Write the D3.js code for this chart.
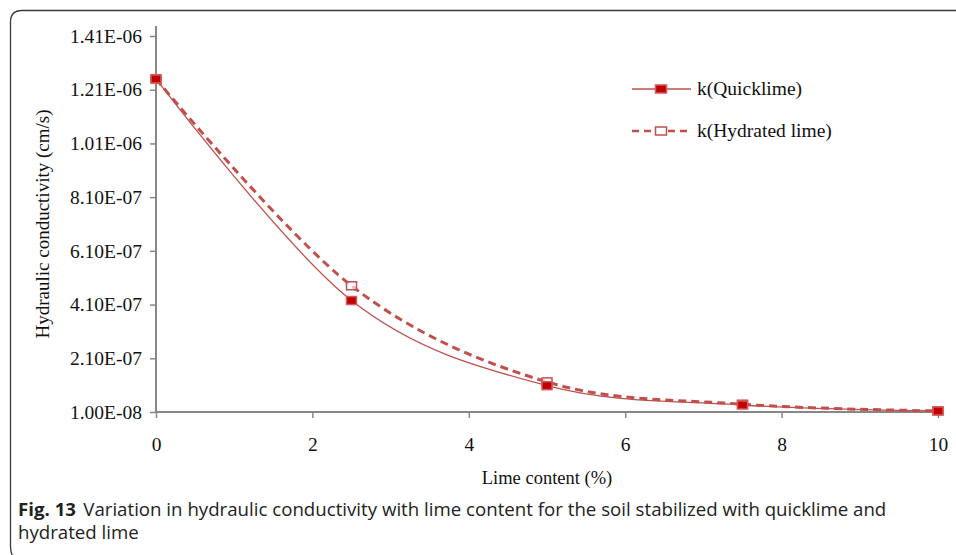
<!DOCTYPE html>
<html>
<head>
<meta charset="utf-8">
<script src="https://cdn.jsdelivr.net/npm/d3@7"></script>
<style>
  html, body { margin: 0; padding: 0; background: #fff; }
  svg { display: block; }
</style>
</head>
<body>
<svg id="chart" width="956" height="555"></svg>
<script>
// ---- data ----
const limeContent = [0, 2.5, 5, 7.5, 10];
const kQuicklime = [1.25e-6, 4.25e-7, 1.08e-7, 3.6e-8, 1.4e-8];
const kHydrated = [1.25e-6, 4.8e-7, 1.22e-7, 3.9e-8, 1.4e-8];
const yTickValues = [1.0e-8, 2.1e-7, 4.1e-7, 6.1e-7, 8.1e-7, 1.01e-6, 1.21e-6, 1.41e-6];
const yTickLabels = ["1.00E-08", "2.10E-07", "4.10E-07", "6.10E-07", "8.10E-07", "1.01E-06", "1.21E-06", "1.41E-06"];
const xTickValues = [0, 2, 4, 6, 8, 10];
const seriesNames = ["k(Quicklime)", "k(Hydrated lime)"];
const xTitle = "Lime content (%)";
const yTitle = "Hydraulic conductivity (cm/s)";
const captionBold = "Fig. 13";
const captionLine1 = "Variation in hydraulic conductivity with lime content for the soil stabilized with quicklime and";
const captionLine2 = "hydrated lime";

const svg = d3.select("#chart");
const serif = "'Liberation Serif', 'Times New Roman', serif";
const sans = "'Open Sans', 'Noto Sans', sans-serif";
const axisColor = "#878787";
const lineRed = "#C0504D";
const fillRed = "#C00000";

// frame
svg.append("path")
  .attr("d", "M16,560 Q10.5,556 10.5,546 L10.5,22 Q10.5,10.5 22,10.5 L960,10.5")
  .attr("fill", "none").attr("stroke", "#3a3a3a").attr("stroke-width", 1.3);

const x = d3.scaleLinear().domain([0, 10]).range([156, 938]);
const y = d3.scaleLinear().domain([1.0e-8, 1.41e-6]).range([412, 36]);

// axes
const yAxis = d3.axisLeft(y).tickValues(yTickValues)
  .tickFormat((d, i) => yTickLabels[i]).tickSize(6).tickPadding(8);
const gy = svg.append("g").attr("transform", `translate(${x(0)},0)`).call(yAxis);
gy.select(".domain").attr("d", `M-0,26V${y(1e-8)}`);

const xAxis = d3.axisBottom(x).tickValues(xTickValues).tickSize(6).tickPadding(19)
  .tickFormat(d3.format("d"));
const gx = svg.append("g").attr("transform", `translate(0,${y(1e-8)})`).call(xAxis);
gx.select(".domain").attr("d", `M${x(0)},0H944`);

[gx, gy].forEach(g => {
  g.select(".domain").attr("stroke", axisColor).attr("stroke-width", 2);
  g.selectAll(".tick line").attr("stroke", axisColor).attr("stroke-width", 1.5);
  g.selectAll(".tick text").attr("font-family", serif).attr("font-size", 19.5).attr("fill", "#111");
});

// axis titles
svg.append("text").attr("x", 547).attr("y", 484).attr("text-anchor", "middle")
  .attr("font-family", serif).attr("font-size", 18.5).attr("fill", "#111").text(xTitle);
svg.append("text").attr("transform", "translate(49,224) rotate(-90)").attr("text-anchor", "middle")
  .attr("font-family", serif).attr("font-size", 19).attr("fill", "#111").text(yTitle);

// lines
const line = d3.line().x(d => x(d[0])).y(d => y(d[1])).curve(d3.curveCardinal.tension(0));
const hydPts = limeContent.map((v, i) => [v, kHydrated[i]]);
const quickPts = limeContent.map((v, i) => [v, kQuicklime[i]]);

svg.append("path").attr("d", line(hydPts)).attr("fill", "none")
  .attr("stroke", lineRed).attr("stroke-width", 3).attr("stroke-dasharray", "8,5");
svg.append("path").attr("d", line(quickPts)).attr("fill", "none")
  .attr("stroke", lineRed).attr("stroke-width", 1.3);

const mw = 10, mh = 8;
svg.append("g").selectAll("rect").data(hydPts).join("rect")
  .attr("x", d => x(d[0]) - mw / 2).attr("y", d => y(d[1]) - mh / 2)
  .attr("width", mw).attr("height", mh)
  .attr("fill", "#fff").attr("fill-opacity", 0.6).attr("stroke", lineRed).attr("stroke-width", 1.5);
svg.append("g").selectAll("rect").data(quickPts).join("rect")
  .attr("x", d => x(d[0]) - mw / 2).attr("y", d => y(d[1]) - mh / 2)
  .attr("width", mw).attr("height", mh)
  .attr("fill", fillRed).attr("stroke", "#d65a5a").attr("stroke-width", 1.5);

// legend
const leg = svg.append("g");
const legItems = [
  { name: seriesNames[0], y: 89, dash: null, w: 1.3, fill: fillRed, stroke: "#d65a5a" },
  { name: seriesNames[1], y: 131, dash: "7,5", w: 2.5, fill: "#fff", stroke: lineRed }
];
legItems.forEach(it => {
  leg.append("line").attr("x1", 632).attr("x2", 691).attr("y1", it.y).attr("y2", it.y)
    .attr("stroke", lineRed).attr("stroke-width", it.w)
    .attr("stroke-dasharray", it.dash);
  leg.append("rect").attr("x", 661 - 5.5).attr("y", it.y - 4).attr("width", 11).attr("height", 8)
    .attr("fill", it.fill).attr("stroke", it.stroke).attr("stroke-width", 1.5);
  leg.append("text").attr("x", 697).attr("y", it.y).attr("dy", "0.33em")
    .attr("font-family", serif).attr("font-size", 19.5).attr("fill", "#111").text(it.name);
});

// caption
const cap = svg.append("g");
const t1 = cap.append("text").attr("x", 0).attr("y", 0)
  .attr("font-family", sans).attr("font-size", 18).attr("fill", "#222");
t1.append("tspan").attr("font-weight", "bold").text(captionBold);
t1.append("tspan").attr("dx", 7).text(captionLine1);
const t2 = cap.append("text").attr("x", 0).attr("y", 23)
  .attr("font-family", sans).attr("font-size", 18).attr("fill", "#222").text(captionLine2);
const len = t1.node().getComputedTextLength() + 7;
const sx = 869 / len;
cap.attr("transform", `translate(18,516) scale(${sx},1)`);
</script>
</body>
</html>
